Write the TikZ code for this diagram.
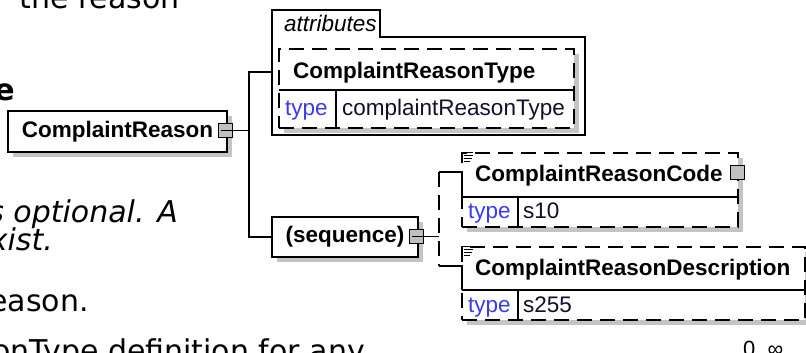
\documentclass[tikz,border=0pt]{standalone}
\usepackage{fontspec}
\setmainfont{Liberation Sans}
\newfontfamily\pagefont{DejaVu Sans}
\usetikzlibrary{shadows}
\definecolor{shgrey}{HTML}{C4C4C4}
\definecolor{sqgrey}{HTML}{C0C0C0}
\definecolor{linkblue}{HTML}{3A3AF0}
\definecolor{valcol}{HTML}{10102A}
\tikzset{
  conn/.style={draw=black, line width=1.2pt},
  optconn/.style={conn, dash pattern=on 15pt off 8pt},
  elbox/.style={rectangle, draw=black, line width=1.2pt, fill=white, inner sep=0pt,
     drop shadow={shadow xshift=5pt, shadow yshift=-5pt, opacity=1, fill=shgrey, draw=none}},
  optbox/.style={elbox, dash pattern=on 15pt off 8pt},
  sqbox/.style={rectangle, draw=black, line width=1pt, fill=sqgrey, minimum size=14pt, inner sep=0pt},
  boxfont/.style={font=\fontsize{22.5}{27}\selectfont\bfseries},
  nametext/.style={inner sep=0pt, anchor=base west, font=\fontsize{22.5}{27}\selectfont\bfseries},
  typekey/.style={inner sep=0pt, anchor=base west, text=linkblue, font=\fontsize{22.5}{27}\selectfont},
  typeval/.style={inner sep=0pt, anchor=base west, text=valcol, font=\fontsize{22.5}{27}\selectfont},
  pagetext/.style={inner sep=0pt, anchor=base east, font=\pagefont\fontsize{30}{36}\selectfont},
  sep/.style={draw=black, line width=1.2pt},
  docicon/.style={draw=black, line width=1pt},
}
\begin{document}
\begin{tikzpicture}[x=1pt,y=-1pt]
\useasboundingbox (0,0) rectangle (806,353);
\clip (0,0) rectangle (806,353);
\fill[white] (0,0) rectangle (806,353);

% surrounding page text (cut off by the crop, as in the reference)
\node[pagetext] (t1) at (180,8.5) {the reason};
\node[pagetext, font=\pagefont\fontsize{30}{36}\selectfont\bfseries] (t2) at (15,100) {e};
\node[pagetext, font=\pagefont\fontsize{30}{36}\selectfont\itshape] (t3) at (178,222) {s optional. A};
\node[pagetext, font=\pagefont\fontsize{30}{36}\selectfont\itshape] (t4) at (53,250) {xist.};
\node[pagetext] (t5) at (89,311) {eason.};
\node[pagetext] (t6) at (365,361) {onType definition for any};

% root element
\node[elbox, boxfont, minimum width=219pt, minimum height=41pt] (cr) at (117.5,131.5) {ComplaintReason};
\node[sqbox] (crsq) at (225,130.5) {};

% attributes group
\draw[conn, fill=white] (272,135) -- (272,10) -- (380,10) -- (380,37) -- (585,37) -- (585,135) -- cycle;
\node[inner sep=0pt, anchor=base west, font=\fontsize{22.5}{27}\selectfont\itshape] (attrlbl) at (284,32) {attributes};
\coordinate (attrin) at (272,72);

\node[optbox, minimum width=295pt, minimum height=79pt] (crt) at (426.5,88.5) {};
\draw[sep] (279,90) -- (574,90);
\draw[sep] (336,90) -- (336,128);
\node[nametext] (crtname) at (293,78) {ComplaintReasonType};
\node[typekey] (crttk) at (285,115) {type};
\node[typeval] (crttv) at (342,115) {complaintReasonType};

% sequence
\node[elbox, boxfont, minimum width=146pt, minimum height=40pt] (seq) at (345,237) {(sequence)};
\node[sqbox] (seqsq) at (416,236.5) {};

% ComplaintReasonCode
\node[optbox, minimum width=276pt, minimum height=74pt] (code) at (600,190) {};
\draw[sep] (462,197) -- (738,197);
\draw[sep] (518,197) -- (518,227);
\node[nametext] (codename) at (475,181) {ComplaintReasonCode};
\node[typekey] (codetk) at (468,218) {type};
\node[typeval] (codetv) at (523,218) {s10};
\node[sqbox] (codesq) at (737,172) {};
\begin{scope}[shift={(code.north west)}]
\draw[docicon] (0,11) -- (0,0) -- (12,0);
\draw[docicon] (3,3.5) -- (12,3.5);
\draw[docicon] (3,6.5) -- (11,6.5);
\draw[docicon] (3,9.5) -- (9,9.5);
\end{scope}

% ComplaintReasonDescription
\node[optbox, minimum width=343pt, minimum height=73pt] (desc) at (633.5,283.5) {};
\draw[sep] (462,290) -- (805,290);
\draw[sep] (518,290) -- (518,320);
\node[nametext] (descname) at (475,275) {ComplaintReasonDescription};
\node[typekey] (desctk) at (468,312) {type};
\node[typeval] (desctv) at (523,312) {s255};
\begin{scope}[shift={(desc.north west)}]
\draw[docicon] (0,11) -- (0,0) -- (12,0);
\draw[docicon] (3,3.5) -- (12,3.5);
\draw[docicon] (3,6.5) -- (11,6.5);
\draw[docicon] (3,9.5) -- (9,9.5);
\end{scope}

% connectors
\coordinate (j1top) at (249,72);
\coordinate (j1bot) at (249,237);
\draw[conn] ([xshift=-4pt]crsq.center) -- (crsq.center -| j1top);
\draw[conn] (attrin) -- (j1top) -- (j1bot) -- (seq.west);

\coordinate (j2) at (439,237);
\coordinate (codein) at (462,172);
\coordinate (descin) at (462,266);
\draw[conn] ([xshift=-4pt]seqsq.center) -- (seqsq.center -| j2);
\draw[optconn] (codein -| j2) -- (descin -| j2);
\draw[conn] (codein -| j2) -- (codein) -- (462,197);
\draw[conn] (descin -| j2) -- (descin) -- (462,290);

% cardinality
\node[inner sep=0pt, anchor=base west, font=\fontsize{22}{26}\selectfont] (card) at (743,356) {0..∞};
\end{tikzpicture}
\end{document}
